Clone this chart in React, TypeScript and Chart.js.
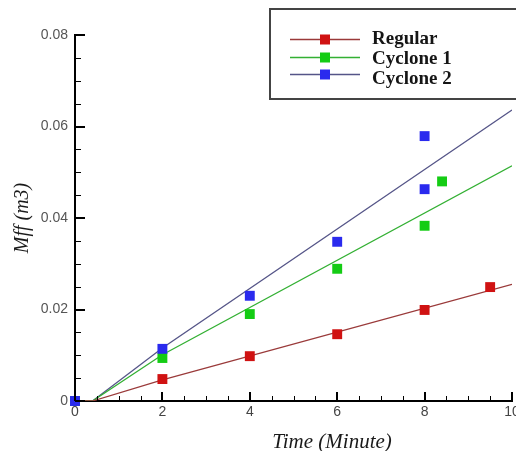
import React, { useEffect, useRef } from "react";
import { Chart, registerables } from "chart.js";

Chart.register(...registerables);

// Measured series (x in minutes, y in m3)
const regularX = [0, 2, 4, 6, 8, 9.5];
const regularY = [0, 0.0048, 0.0098, 0.0146, 0.0199, 0.0249];
const cyclone1X = [0, 2, 4, 6, 8, 8.4];
const cyclone1Y = [0, 0.0094, 0.019, 0.0289, 0.0383, 0.048];
const cyclone2X = [0, 2, 4, 6, 8, 8];
const cyclone2Y = [0, 0.0114, 0.023, 0.0348, 0.0463, 0.0579];

// Trend lines
const trendX = [0, 0.4, 2, 10];
const regularTrendY = [0, 0, 0.0046, 0.0255];
const cyclone1TrendY = [0, 0, 0.0101, 0.0514];
const cyclone2TrendY = [0, 0, 0.0116, 0.0636];

const seriesNames = ["Regular", "Cyclone 1", "Cyclone 2"];
const markerColors = ["#d01212", "#14cc14", "#2a2aee"];
const lineColors = ["#9a3a3a", "#33b033", "#555588"];

const xTitle = "Time (Minute)";
const yTitle = "Mff (m3)";

const toPts = (xs: number[], ys: number[]) => xs.map((x, i) => ({ x, y: ys[i] }));

const customPlugin = {
  id: "custom",
  afterDraw(chart: any) {
    const ctx = chart.ctx;
    const xs = chart.scales.x;
    const ys = chart.scales.y;
    const area = chart.chartArea;
    ctx.save();
    ctx.strokeStyle = "#000";
    // y ticks (inside)
    for (let k = 0; k <= 16; k++) {
      const v = k * 0.005;
      const py = Math.round(ys.getPixelForValue(v));
      const major = k % 4 === 0;
      ctx.lineWidth = major ? 2 : 1;
      ctx.beginPath();
      ctx.moveTo(area.left, py + (major ? 0 : 0.5));
      ctx.lineTo(area.left + (major ? 10 : 6), py + (major ? 0 : 0.5));
      ctx.stroke();
    }
    // x ticks (inside)
    for (let k = 0; k <= 20; k++) {
      const v = k * 0.5;
      const px = Math.round(xs.getPixelForValue(v));
      const major = k % 4 === 0;
      ctx.lineWidth = major ? 2 : 1;
      ctx.beginPath();
      ctx.moveTo(px + (major ? 0 : 0.5), area.bottom);
      ctx.lineTo(px + (major ? 0 : 0.5), area.bottom - (major ? 9 : 5));
      ctx.stroke();
    }
    // x title
    ctx.fillStyle = "#1a1a1a";
    ctx.font = "italic 21px 'Liberation Serif', 'DejaVu Serif', serif";
    ctx.textAlign = "center";
    ctx.textBaseline = "alphabetic";
    ctx.fillText(xTitle, 332, 448);

    // legend box
    ctx.lineWidth = 2;
    ctx.strokeStyle = "#444";
    ctx.fillStyle = "#fff";
    ctx.beginPath();
    ctx.rect(270, 9, 260, 90);
    ctx.fill();
    ctx.stroke();
    const rowY = [39, 57, 74];
    const textY = [44, 64, 84];
    ctx.font = "bold 19px 'Liberation Serif', 'DejaVu Serif', serif";
    ctx.textAlign = "left";
    for (let i = 0; i < 3; i++) {
      ctx.strokeStyle = lineColors[i];
      ctx.lineWidth = 1.5;
      ctx.beginPath();
      ctx.moveTo(290, rowY[i] + 0.5);
      ctx.lineTo(360, rowY[i] + 0.5);
      ctx.stroke();
      ctx.fillStyle = markerColors[i];
      ctx.fillRect(320, rowY[i] - 4.5, 10, 10);
      ctx.fillStyle = "#151515";
      ctx.fillText(seriesNames[i], 372, textY[i]);
    }
    ctx.restore();
  },
};

export default function App() {
  const ref = useRef<HTMLCanvasElement>(null);
  useEffect(() => {
    document.body.style.margin = "0";
    const trendYs = [regularTrendY, cyclone1TrendY, cyclone2TrendY];
    const ptsX = [regularX, cyclone1X, cyclone2X];
    const ptsY = [regularY, cyclone1Y, cyclone2Y];
    const datasets: any[] = [];
    // Chart.js paints lower-index datasets on top: points first (Cyclone 2 topmost), then lines
    for (let i = 2; i >= 0; i--) {
      datasets.push({
        label: seriesNames[i],
        data: toPts(ptsX[i], ptsY[i]),
        showLine: false,
        clip: false,
        pointStyle: "rect",
        pointRadius: 7,
        pointBackgroundColor: markerColors[i],
        pointBorderColor: markerColors[i],
        pointBorderWidth: 0,
      });
    }
    for (let i = 0; i < 3; i++) {
      datasets.push({
        label: seriesNames[i] + " trend",
        data: toPts(trendX, trendYs[i]),
        showLine: true,
        borderColor: lineColors[i],
        borderWidth: 1.3,
        pointRadius: 0,
        fill: false,
      });
    }
    const chart = new Chart(ref.current!, {
      type: "scatter",
      data: { datasets },
      plugins: [customPlugin],
      options: {
        animation: false,
        responsive: false,
        devicePixelRatio: 1,
        layout: { padding: { top: 35, right: 4, left: 0, bottom: 0 }, autoPadding: false },
        plugins: { legend: { display: false }, tooltip: { enabled: false } },
        scales: {
          x: {
            type: "linear",
            min: 0,
            max: 10,
            afterFit: (s: any) => {
              s.height = 50;
              s.paddingLeft = 0;
              s.paddingRight = 0;
            },
            grid: { drawOnChartArea: false, drawTicks: false },
            border: { display: true, color: "#000", width: 2 },
            ticks: {
              stepSize: 0.5,
              autoSkip: false,
              maxRotation: 0,
              padding: 3,
              color: "#444",
              font: { family: "'Liberation Sans', Arial, sans-serif", size: 14 },
              callback: (v: any) => {
                const n = Number(v);
                return Math.abs(n - Math.round(n)) < 1e-9 && Math.round(n) % 2 === 0 ? String(Math.round(n)) : "";
              },
            },
          },
          y: {
            type: "linear",
            min: 0,
            max: 0.08,
            afterFit: (s: any) => {
              s.width = 75;
              s.paddingTop = 0;
              s.paddingBottom = 0;
            },
            grid: { drawOnChartArea: false, drawTicks: false },
            border: { display: true, color: "#000", width: 2 },
            title: {
              display: true,
              text: yTitle,
              color: "#1a1a1a",
              padding: { top: 11, bottom: 0 },
              font: { family: "'Liberation Serif', 'DejaVu Serif', serif", size: 20, style: "italic" },
            },
            ticks: {
              stepSize: 0.005,
              autoSkip: false,
              padding: 7,
              color: "#555",
              font: { family: "'Liberation Sans', Arial, sans-serif", size: 14 },
              callback: (v: any) => {
                const n = Math.round(Number(v) * 1000);
                if (n % 20 !== 0) return "";
                return n === 0 ? "0" : (n / 1000).toFixed(2);
              },
            },
          },
        },
      },
    });
    return () => chart.destroy();
  }, []);
  return <canvas ref={ref} width={516} height={451} style={{ display: "block" }} />;
}
